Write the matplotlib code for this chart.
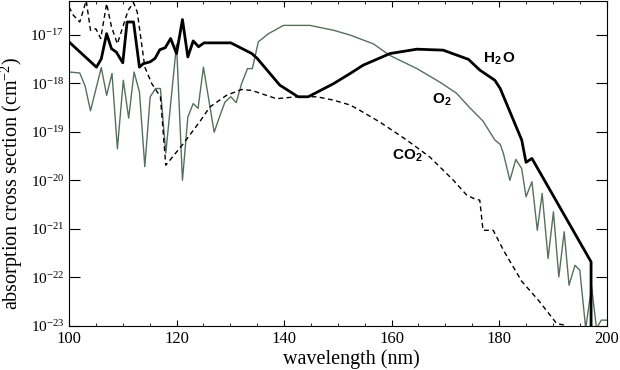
import numpy as np
import matplotlib
matplotlib.use("Agg")
import matplotlib.pyplot as plt
from matplotlib.ticker import MultipleLocator

plt.rcParams['font.family'] = ['Liberation Serif', 'DejaVu Serif']
plt.rcParams['mathtext.fontset'] = 'custom'
plt.rcParams['mathtext.rm'] = 'Liberation Serif'
plt.rcParams['mathtext.it'] = 'Liberation Serif:italic'
plt.rcParams['mathtext.bf'] = 'Liberation Sans:bold'

# wavelength (nm) and log10 of cross section (cm^-2)
h2o_wl = [100.0, 105.1, 106.0, 107.0, 107.9, 108.8, 110.0, 110.8, 112.0, 113.1,
          113.8, 115.1, 116.0, 116.9, 117.9, 118.9, 120.0, 121.1, 122.1, 123.1,
          124.1, 125.1, 130.1, 134.0, 135.0, 139.2, 142.6, 144.5, 149.2, 152.3,
          154.7, 159.7, 164.7, 169.6, 174.3, 176.4, 179.2, 180.2, 184.2, 185.0,
          186.1, 197.1, 197.1]
h2o_exp = [-17.15, -17.67, -17.50, -16.98, -17.29, -17.36, -17.58, -16.74, -16.74, -17.67,
           -17.60, -17.56, -17.49, -17.31, -17.27, -17.08, -17.39, -16.69, -17.46, -17.13,
           -17.25, -17.17, -17.17, -17.39, -17.49, -18.04, -18.28, -18.28, -18.01, -17.80,
           -17.63, -17.39, -17.30, -17.32, -17.51, -17.73, -17.94, -18.11, -19.17, -19.63,
           -19.55, -21.68, -23.5]

o2_wl = [100.0, 102.0, 103.0, 104.0, 106.0, 107.0, 108.0, 109.0, 110.1, 111.1,
         112.1, 113.1, 114.1, 115.1, 116.1, 117.0, 118.0, 120.0, 121.1, 122.1,
         123.1, 124.0, 125.0, 127.0, 128.1, 129.0, 130.1, 131.1, 132.1, 133.2,
         134.1, 135.2, 137.1, 139.9, 144.8, 149.2, 152.3, 156.6, 159.7, 164.7,
         169.0, 172.1, 174.4, 177.0, 179.2, 180.2, 180.8, 182.0, 183.1, 184.2,
         185.0, 186.1, 187.1, 188.0, 189.1, 190.1, 191.1, 192.1, 193.0, 194.1,
         195.0, 196.1, 197.2, 198.1, 199.0, 200.0]
o2_exp = [-17.77, -17.79, -18.06, -18.57, -17.68, -18.25, -17.80, -19.35, -17.94, -18.72,
          -17.77, -18.18, -19.72, -18.28, -18.11, -18.11, -19.44, -17.20, -20.00, -18.70,
          -18.42, -18.52, -17.67, -19.01, -18.66, -18.39, -18.28, -18.40, -18.01, -17.70,
          -17.70, -17.15, -16.98, -16.81, -16.81, -16.91, -17.01, -17.19, -17.43, -17.70,
          -17.98, -18.21, -18.49, -18.78, -19.17, -19.26, -19.45, -20.00, -19.57, -19.76,
          -20.34, -20.03, -21.03, -20.27, -21.61, -20.65, -21.99, -21.06, -22.16, -21.75,
          -21.85, -23.05, -22.19, -23.05, -22.88, -22.88]

co2_wl = [100.0, 100.8, 102.0, 103.2, 104.0, 105.0, 105.9, 107.0, 107.9, 109.0,
          110.1, 111.0, 112.0, 112.7, 114.1, 115.4, 117.0, 118.0, 121.3, 124.4,
          126.2, 129.3, 132.1, 134.0, 138.6, 142.3, 146.1, 149.2, 152.3, 154.1,
          157.8, 162.8, 167.1, 171.5, 174.0, 175.2, 176.4, 177.0, 178.9, 180.8,
          184.2, 187.3, 190.7, 192.0, 195.0]
co2_exp = [-16.43, -16.60, -16.74, -16.30, -16.91, -16.88, -17.08, -16.36, -16.84, -17.19,
           -16.81, -16.50, -16.34, -16.54, -17.67, -18.01, -18.28, -19.69, -19.24, -18.78,
           -18.49, -18.25, -18.13, -18.15, -18.32, -18.28, -18.28, -18.35, -18.45, -18.56,
           -18.80, -19.17, -19.52, -20.00, -20.31, -20.37, -20.41, -21.03, -21.03, -21.44,
           -22.08, -22.47, -22.95, -22.98, -23.30]

ytick_exp = [-23, -22, -21, -20, -19, -18, -17]

fig = plt.figure(figsize=(6.2, 3.7), dpi=100)
ax = fig.add_axes([0.1113, 0.119, 0.8672, 0.878])

ax.plot(o2_wl, 10.0**np.array(o2_exp), color='#56705c', lw=1.0)
ax.plot(co2_wl, 10.0**np.array(co2_exp), color='black', lw=1.0, dashes=(3.5, 2.5))
ax.plot(h2o_wl, 10.0**np.array(h2o_exp), color='black', lw=2.0)

ax.set_yscale('log')
ax.set_xlim(100, 200)
ax.set_ylim(1e-23, 10**-16.31)
ax.xaxis.set_major_locator(MultipleLocator(20))
ax.xaxis.set_minor_locator(MultipleLocator(5))
ax.set_yticks([10.0**e for e in ytick_exp],
              [r'$\mathdefault{10^{%d}}$' % e for e in ytick_exp])
ax.yaxis.set_minor_locator(plt.NullLocator())
ax.tick_params(which='both', direction='in', top=True, right=True)
ax.tick_params(axis='x', which='major', length=4.5, labelsize=12)
ax.tick_params(axis='x', which='minor', length=2.4)
ax.tick_params(axis='y', which='major', length=8, labelsize=11)

ax.set_xlabel('wavelength (nm)', fontsize=14.5)
ax.set_ylabel('absorption cross section (cm$^{-2}$)', fontsize=14.5)
ax.xaxis.set_label_coords(0.526, -0.071)
ax.yaxis.set_label_coords(-0.082, 0.44)

ax.text(177.0, 10**-17.57, r'$\mathbf{H_2\,O}$', fontsize=11)
ax.text(167.5, 10**-18.42, r'$\mathbf{O_2}$', fontsize=11)
ax.text(160.1, 10**-19.58, r'$\mathbf{CO_2}$', fontsize=11)

fig.savefig('out.png', dpi=100)
